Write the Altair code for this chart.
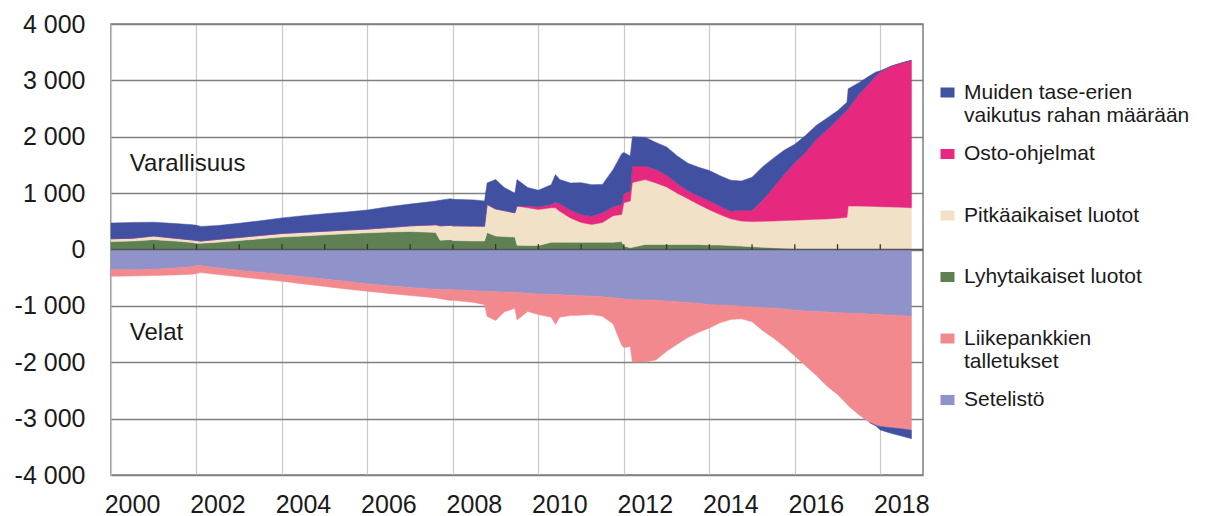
import altair as alt
import pandas as pd

# ---- data (decimal years, values in bn EUR) ----
years = [2000.0, 2000.5, 2001.0, 2001.5, 2001.9, 2002.0, 2002.1, 2002.5, 2003.0, 2003.5,
         2004.0, 2004.5, 2005.0, 2005.5, 2006.0, 2006.5, 2007.0, 2007.5, 2007.6, 2007.7,
         2007.95, 2008.0, 2008.5, 2008.74, 2008.8, 2009.0, 2009.2, 2009.45, 2009.5, 2009.75,
         2010.0, 2010.3, 2010.4, 2010.5, 2010.75, 2011.0, 2011.25, 2011.5, 2011.75, 2011.95,
         2012.0, 2012.15, 2012.2, 2012.5, 2012.75, 2013.0, 2013.25, 2013.5, 2013.75, 2014.0,
         2014.25, 2014.5, 2014.75, 2015.0, 2015.25, 2015.5, 2015.75, 2016.0, 2016.25, 2016.5,
         2016.75, 2017.0, 2017.22, 2017.25, 2017.5, 2017.75, 2017.9, 2018.0, 2018.25, 2018.5,
         2018.73]

# cumulative levels on the asset side (top edge of each band)
lyhyt_top = [140, 150, 175, 150, 125, 110, 110, 130, 160, 190,
             220, 240, 260, 280, 296, 310, 320, 305, 300, 165,
             175, 160, 150, 150, 300, 240, 230, 220, 75, 70,
             70, 130, 130, 130, 130, 130, 130, 130, 130, 140,
             60, 30, 40, 90, 90, 90, 90, 90, 90, 80,
             80, 70, 60, 50, 40, 30, 20, 15, 10, 5,
             3, 0, 0, 0, 0, 0, 0, 0, 0, 0, 0]
pitka_top = [190, 200, 240, 200, 170, 160, 150, 180, 215, 250,
             285, 305, 325, 345, 362, 390, 420, 435, 440, 420,
             430, 420, 415, 414, 800, 720, 690, 650, 770, 740,
             711, 740, 740, 680, 560, 480, 444, 480, 600, 620,
             830, 860, 1190, 1240, 1180, 1110, 1000, 900, 800, 705,
             620, 545, 504, 495, 500, 505, 515, 521, 528, 535,
             542, 555, 570, 770, 770, 765, 762, 760, 755, 750, 741]
osto_top = [190, 200, 240, 200, 170, 160, 150, 180, 215, 250,
            285, 305, 325, 345, 362, 390, 420, 435, 440, 420,
            430, 420, 415, 414, 800, 720, 690, 650, 770, 770,
            760, 800, 840, 810, 700, 620, 590, 650, 760, 800,
            1000, 1030, 1480, 1480, 1420, 1320, 1170, 1040, 950, 865,
            770, 680, 700, 690, 880, 1100, 1330, 1541, 1720, 1950,
            2120, 2300, 2470, 2500, 2750, 2950, 3080, 3150, 3250, 3310, 3355]
muiden_top = [470, 480, 485, 460, 440, 430, 410, 425, 465, 510,
              560, 600, 635, 665, 700, 760, 805, 850, 860, 875,
              900, 890, 880, 860, 1180, 1240, 1100, 1000, 1240, 1100,
              1050, 1150, 1330, 1240, 1180, 1185, 1150, 1155, 1420, 1700,
              1720, 1660, 2000, 1990, 1900, 1820, 1660, 1530, 1460, 1400,
              1310, 1230, 1215, 1280, 1470, 1620, 1760, 1866, 2020, 2200,
              2330, 2460, 2610, 2850, 2960, 3080, 3150, 3170, 3250, 3310, 3355]

# cumulative levels on the liability side (bottom edge of each band)
setelisto_bottom = [-356, -360, -350, -330, -305, -285, -290, -330, -370, -405,
                    -444, -485, -525, -565, -610, -645, -675, -700, -705, -708,
                    -711, -712, -730, -740, -745, -750, -755, -760, -762, -775,
                    -788, -795, -800, -802, -810, -820, -830, -840, -855, -870,
                    -880, -889, -890, -895, -900, -915, -925, -940, -955, -978,
                    -985, -995, -1005, -1015, -1030, -1040, -1055, -1078, -1090, -1100,
                    -1110, -1120, -1125, -1128, -1135, -1145, -1150, -1155, -1165, -1175, -1185]
talletus_bottom = [-474, -470, -462, -452, -440, -425, -410, -445, -485, -525,
                   -563, -610, -655, -700, -741, -780, -815, -850, -860, -872,
                   -905, -900, -940, -978, -1185, -1260, -1110, -1040, -1250, -1100,
                   -1155, -1200, -1330, -1200, -1170, -1165, -1155, -1185, -1320, -1700,
                   -1740, -1720, -1997, -1997, -1960, -1807, -1680, -1560, -1470, -1392,
                   -1300, -1240, -1230, -1280, -1440, -1570, -1720, -1890, -2060, -2230,
                   -2420, -2570, -2740, -2770, -2930, -3070, -3120, -3140, -3160, -3180, -3205]
# negative part of "Muiden tase-erien vaikutus" (below the deposits)
muiden_neg = [0] * 66 + [-10, -60, -100, -130, -150]
neg_start = 65  # first point of the negative "Muiden" band

series_names = ["Muiden tase-erien vaikutus rahan määrään", "Osto-ohjelmat",
                "Pitkäaikaiset luotot", "Lyhytaikaiset luotot",
                "Liikepankkien talletukset", "Setelistö"]
series_colors = ["#4150a0", "#e6287f", "#f0e1c7", "#5e8052", "#f2898f", "#8f93c9"]

year_ticks = list(range(2000, 2019, 2))
minor_years = list(range(2001, 2019))
y_ticks = list(range(-4000, 4001, 1000))
notes = ["Varallisuus", "Velat"]
note_x = [2000.44, 2000.44]
note_y = [1525, -1480]

# ---- build band table ----
rows = []
for i, t in enumerate(years):
    bands = [
        (series_names[3], "pos", 0, lyhyt_top[i]),
        (series_names[2], "pos", lyhyt_top[i], pitka_top[i]),
        (series_names[1], "pos", pitka_top[i], osto_top[i]),
        (series_names[0], "pos", osto_top[i], muiden_top[i]),
        (series_names[5], "neg", 0, setelisto_bottom[i]),
        (series_names[4], "neg", setelisto_bottom[i], talletus_bottom[i]),
    ]
    if i >= neg_start:
        bands.append((series_names[0], "neg", talletus_bottom[i], talletus_bottom[i] + muiden_neg[i]))
    for name, part, lo, hi in bands:
        rows.append({"t": t, "series": name, "part": part, "lo": lo, "hi": hi})
df = pd.DataFrame(rows)

xscale = alt.Scale(domain=[2000, 2019], nice=False, zero=False)
yscale = alt.Scale(domain=[-4000, 4000], nice=False)
cscale = alt.Scale(domain=series_names, range=series_colors)

x_axis = alt.Axis(values=year_ticks, format="d", labelOffset=21, labelPadding=17,
                  labelFontSize=25, labelColor="#1a1a1a", grid=True,
                  gridColor="#c9c9c9", gridWidth=1.2, domain=False, ticks=False,
                  labelFlush=False, title=None)
y_axis = alt.Axis(values=y_ticks,
                  labelExpr="(datum.value < 0 ? '-' : '') + replace(format(abs(datum.value), ','), ',', ' ')",
                  labelPadding=26, labelFontSize=25, labelColor="#1a1a1a",
                  grid=True, gridColor="#808080", gridWidth=1.3,
                  domain=False, ticks=False, labelFlush=False, title=None)

label_expr = ("datum.label == '" + series_names[0] + "' ? ['Muiden tase-erien', 'vaikutus rahan määrään'] : "
              "datum.label == '" + series_names[4] + "' ? ['Liikepankkien', 'talletukset'] : "
              "[datum.label, ' ']")

legend = alt.Legend(
    orient="none", legendX=826, legendY=58, title=None, direction="vertical",
    symbolType="M-1.4,-1H1.4V1H-1.4Z", symbolSize=100, symbolStrokeWidth=0,
    labelFontSize=21, labelColor="#1a1a1a", labelOffset=6, labelLimit=400,
    rowPadding=16.5, labelExpr=label_expr, padding=0,
)

areas = alt.Chart(df).mark_area(interpolate="linear", strokeWidth=0.5).encode(
    x=alt.X("t:Q", scale=xscale, axis=x_axis),
    y=alt.Y("hi:Q", stack=None, scale=yscale, axis=y_axis),
    y2="lo:Q",
    color=alt.Color("series:N", scale=cscale, legend=legend),
    stroke=alt.Stroke("series:N", scale=cscale, legend=None),
    detail="part:N",
)

zero_line = alt.Chart(pd.DataFrame({"v": [0]})).mark_rule(color="#555555", strokeWidth=1.5).encode(
    y=alt.Y("v:Q", scale=yscale, axis=y_axis)
)

minor_ticks = alt.Chart(pd.DataFrame({"yr": minor_years})).mark_rule(color="#333333", strokeWidth=1.3).encode(
    x=alt.X("yr:Q", scale=xscale, axis=x_axis),
    y=alt.datum(0),
    y2=alt.datum(95),
)

note_layer = alt.Chart(pd.DataFrame({"label": notes, "x": note_x, "y": note_y})).mark_text(
    align="left", baseline="middle", fontSize=24, color="#1a1a1a"
).encode(
    x=alt.X("x:Q", scale=xscale, axis=x_axis),
    y=alt.Y("y:Q", scale=yscale, axis=y_axis),
    text="label:N",
)

chart = alt.layer(areas, zero_line, minor_ticks, note_layer).properties(
    width=812, height=451,
    autosize=alt.AutoSizeParams(type="none"),
    padding={"left": 103, "top": 16, "right": 277, "bottom": 41},
    background="white",
).configure(font="Liberation Sans").configure_view(stroke="#7f7f7f", strokeWidth=1.5)

chart.save("out.html", embed_options={"renderer": "svg", "actions": False})
